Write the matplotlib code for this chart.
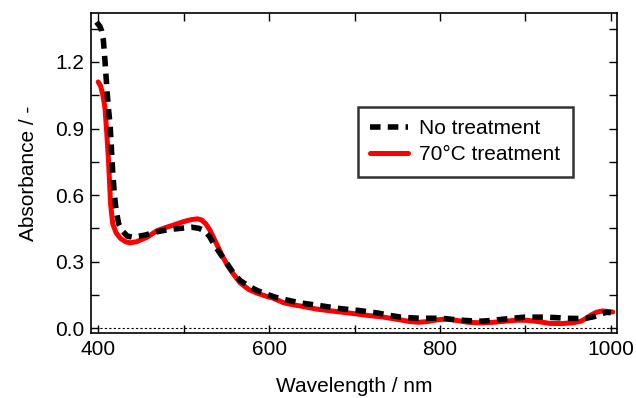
"""Absorbance spectra: untreated vs 70 C treated sample."""

import matplotlib
matplotlib.use("Agg")
import matplotlib.pyplot as plt
from matplotlib.ticker import MultipleLocator

plt.rcParams["font.family"] = ["Liberation Sans", "DejaVu Sans"]

# Spectra (wavelength in nm, absorbance).
wl_none = [398, 402, 404, 406, 408, 410.5, 412, 414, 417, 419, 421, 424, 428, 434,
           441, 455, 469, 483, 496, 504, 510, 518, 524, 530, 536, 543, 551, 558,
           566, 576, 586, 596, 607, 620, 632, 644, 656, 668, 680, 692, 705, 717,
           728, 741, 754, 766, 777, 790, 802, 814, 826, 838, 849, 860, 872, 885,
           899, 911, 922, 935, 948, 960, 971, 980, 988, 995, 1000]
abs_none = [1.38, 1.36, 1.34, 1.30, 1.2, 1.06, 0.99, 0.91, 0.70, 0.6, 0.53, 0.47,
            0.44, 0.415, 0.41, 0.42, 0.435, 0.445, 0.45, 0.453, 0.455, 0.45, 0.44,
            0.415, 0.375, 0.335, 0.29, 0.25, 0.215, 0.19, 0.17, 0.155, 0.14, 0.128,
            0.118, 0.11, 0.104, 0.097, 0.09, 0.085, 0.08, 0.074, 0.068, 0.058, 0.05,
            0.047, 0.045, 0.045, 0.045, 0.04, 0.036, 0.033, 0.032, 0.035, 0.04,
            0.045, 0.05, 0.05, 0.05, 0.048, 0.045, 0.044, 0.045, 0.052, 0.064,
            0.072, 0.07]

wl_70c = [400, 403, 406, 408, 410, 412, 414.5, 417, 421, 426, 432, 437, 445, 457,
          469, 480, 488, 498, 505, 510, 516, 521, 526, 531, 536, 541, 546, 551,
          558, 566, 576, 586, 596, 605, 617, 625, 640, 656, 675, 695, 715, 734,
          750, 765, 775, 785, 797, 808, 820, 832, 849, 863, 877, 890, 901, 915,
          928, 942, 956, 965, 971, 977, 983, 990, 998, 1002]
abs_70c = [1.11, 1.09, 1.04, 0.99, 0.88, 0.76, 0.56, 0.47, 0.43, 0.405, 0.39,
           0.385, 0.39, 0.41, 0.44, 0.455, 0.465, 0.478, 0.486, 0.49, 0.493, 0.488,
           0.47, 0.44, 0.40, 0.36, 0.32, 0.285, 0.245, 0.205, 0.175, 0.158, 0.145,
           0.135, 0.115, 0.108, 0.098, 0.086, 0.077, 0.068, 0.058, 0.05, 0.04,
           0.03, 0.027, 0.03, 0.038, 0.042, 0.035, 0.027, 0.024, 0.027, 0.032,
           0.036, 0.036, 0.03, 0.022, 0.021, 0.025, 0.032, 0.045, 0.06, 0.072,
           0.078, 0.075, 0.073]

fig = plt.figure(figsize=(6.36, 3.98), dpi=100)
ax = fig.add_axes([0.143, 0.163, 0.827, 0.804])

ax.axhline(0, color="black", lw=0.8, ls=(0, (2, 2)), zorder=1)
ax.plot(wl_70c, abs_70c, color="#ff0000", lw=3.6, label="70°C treatment",
        solid_joinstyle="round", solid_capstyle="round", zorder=2)
ax.plot(wl_none, abs_none, color="black", lw=4.0, dashes=(1.9, 1.3),
        dash_joinstyle="round", label="No treatment", zorder=3)

ax.set_xlim(391.5, 1007)
ax.set_ylim(-0.022, 1.42)
ax.xaxis.set_major_locator(MultipleLocator(200))
ax.xaxis.set_minor_locator(MultipleLocator(100))
ax.yaxis.set_major_locator(MultipleLocator(0.3))
ax.yaxis.set_minor_locator(MultipleLocator(0.15))
ax.yaxis.set_major_formatter(plt.FormatStrFormatter("%.1f"))
ax.tick_params(which="both", direction="in", top=True, right=True, labelsize=15,
               width=1)
ax.tick_params(which="major", length=6, pad=5)
ax.tick_params(which="minor", length=6)
for s in ax.spines.values():
    s.set_linewidth(1.2)

ax.set_xlabel("Wavelength / nm", fontsize=15, labelpad=13)
ax.set_ylabel("Absorbance / -", fontsize=15, labelpad=12)

handles, labels = ax.get_legend_handles_labels()
leg = ax.legend(handles[::-1], labels[::-1], loc="upper left",
                bbox_to_anchor=(0.507, 0.708), fontsize=15, frameon=True,
                fancybox=False, edgecolor="black", handlelength=1.8,
                handletextpad=0.55, borderpad=0.6, labelspacing=0.35,
                borderaxespad=0)
leg.get_frame().set_linewidth(1.8)

fig.savefig("out.png", dpi=100)
